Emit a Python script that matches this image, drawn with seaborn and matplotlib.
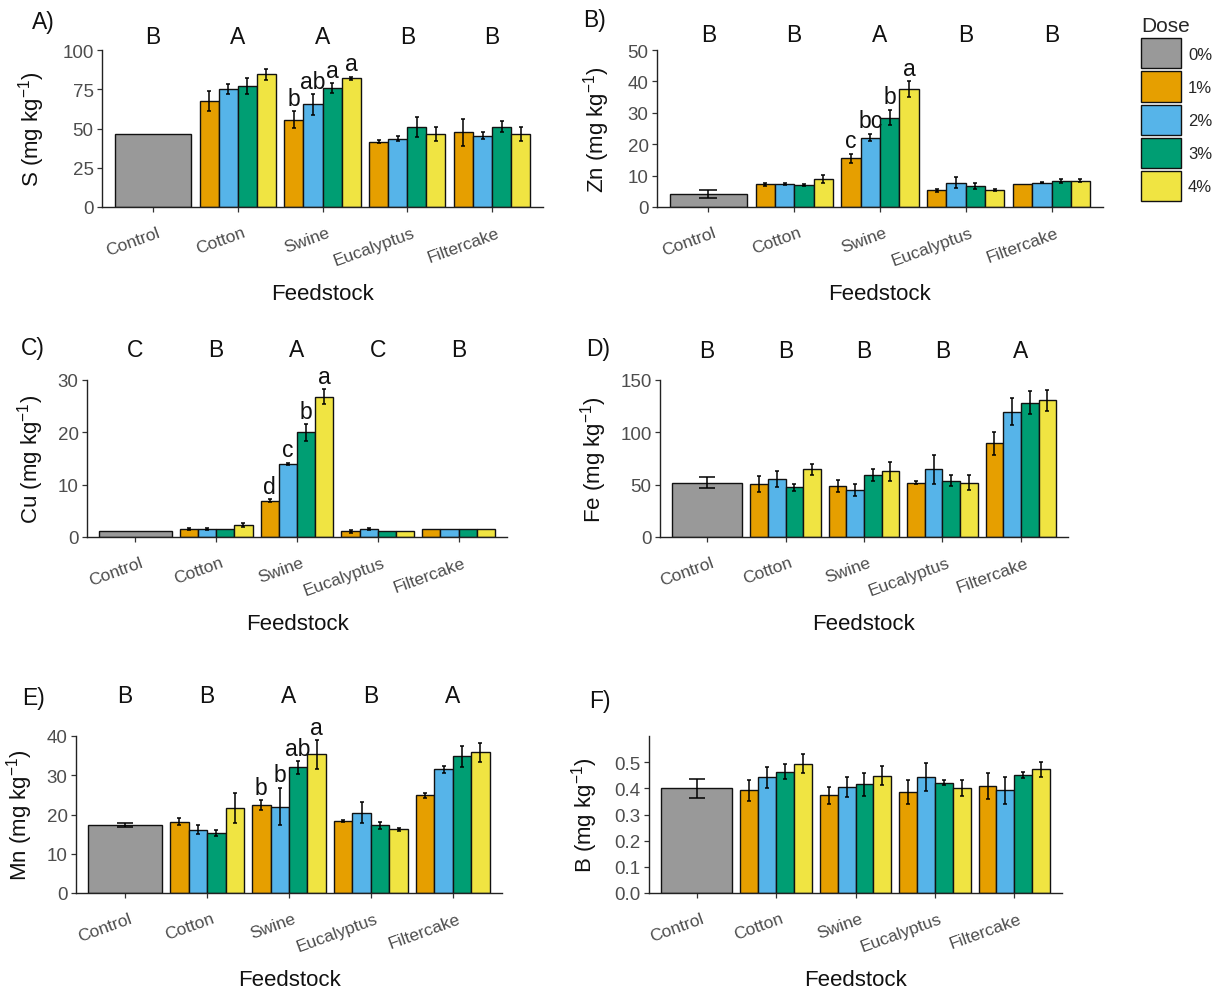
import numpy as np
import pandas as pd
import matplotlib
matplotlib.use("Agg")
import matplotlib.pyplot as plt
from matplotlib.patches import Patch
from matplotlib.container import BarContainer
from matplotlib.transforms import ScaledTranslation, blended_transform_factory
import seaborn as sns

sns.set_theme(style="ticks")
plt.rcParams["font.family"] = ["Liberation Sans", "DejaVu Sans"]
plt.rcParams["mathtext.fontset"] = "custom"
plt.rcParams["mathtext.rm"] = "Liberation Sans"
plt.rcParams["mathtext.default"] = "regular"

# ---- data -------------------------------------------------------------
feedstocks = ["Control", "Cotton", "Swine", "Eucalyptus", "Filtercake"]
amended = ["Cotton", "Swine", "Eucalyptus", "Filtercake"]
doses = ["1%", "2%", "3%", "4%"]
dose_levels = ["0%", "1%", "2%", "3%", "4%"]
dose_colors = ["#999999", "#E69F00", "#56B4E9", "#009E73", "#F0E442"]

elements = ["S", "Zn", "Cu", "Fe", "Mn", "B"]

# control soil (0 % dose): mean and standard error
control_mean = [46.5, 4.2, 1.2, 52.0, 17.3, 0.400]
control_se = [0.0, 1.3, 0.0, 5.3, 0.5, 0.037]

# amended soils: rows Cotton, Swine, Eucalyptus, Filtercake; columns 1-4 %
s_mean = [[67.7, 75.0, 77.2, 84.4], [55.6, 65.3, 75.9, 82.0],
          [41.6, 43.5, 51.2, 46.5], [47.6, 45.5, 51.2, 46.5]]
s_se = [[6.5, 3.2, 5.0, 3.7], [5.3, 6.7, 3.0, 1.0],
        [1.0, 1.5, 6.3, 4.3], [8.7, 2.5, 3.5, 4.3]]

zn_mean = [[7.2, 7.3, 7.1, 9.0], [15.5, 22.1, 28.5, 37.5],
           [5.3, 7.8, 6.6, 5.4], [7.2, 7.8, 8.4, 8.4]]
zn_se = [[0.4, 0.2, 0.3, 1.3], [1.5, 1.2, 2.5, 2.5],
         [0.5, 1.8, 1.0, 0.3], [0.0, 0.3, 0.6, 0.5]]

cu_mean = [[1.6, 1.5, 1.5, 2.3], [6.9, 14.0, 20.0, 26.8],
           [1.1, 1.5, 1.1, 1.1], [1.5, 1.5, 1.5, 1.5]]
cu_se = [[0.2, 0.2, 0.0, 0.4], [0.3, 0.2, 1.6, 1.4],
         [0.3, 0.2, 0.0, 0.0], [0.0, 0.0, 0.0, 0.0]]

fe_mean = [[50.4, 55.5, 47.6, 64.7], [48.5, 44.7, 59.3, 62.8],
           [52.0, 64.7, 53.9, 52.0], [89.4, 119.9, 128.4, 130.7]]
fe_se = [[7.5, 8.0, 3.5, 5.3], [5.5, 6.0, 6.0, 9.0],
         [1.5, 14.0, 5.4, 7.5], [11.0, 12.7, 11.0, 10.0]]

mn_mean = [[18.2, 16.1, 15.3, 21.6], [22.4, 22.0, 32.0, 35.3],
           [18.3, 20.5, 17.2, 16.2], [24.9, 31.5, 34.8, 35.8]]
mn_se = [[0.9, 1.1, 0.8, 3.8], [1.2, 4.8, 1.6, 3.7],
         [0.3, 2.7, 0.8, 0.4], [0.6, 0.8, 2.6, 2.5]]

b_mean = [[0.392, 0.443, 0.463, 0.494], [0.373, 0.406, 0.415, 0.449],
          [0.386, 0.443, 0.422, 0.400], [0.408, 0.392, 0.451, 0.472]]
b_se = [[0.040, 0.040, 0.029, 0.037], [0.033, 0.038, 0.045, 0.037],
        [0.045, 0.054, 0.011, 0.030], [0.049, 0.050, 0.013, 0.030]]

# Tukey groups between feedstocks (upper case) and among swine doses (lower case)
feedstock_groups = {
    "S": ["B", "A", "A", "B", "B"],
    "Zn": ["B", "B", "A", "B", "B"],
    "Cu": ["C", "B", "A", "C", "B"],
    "Fe": ["B", "B", "B", "B", "A"],
    "Mn": ["B", "B", "A", "B", "A"],
    "B": None,
}
swine_groups = {
    "S": ["b", "ab", "a", "a"],
    "Zn": ["c", "bc", "b", "a"],
    "Cu": ["d", "c", "b", "a"],
    "Fe": None,
    "Mn": ["b", "b", "ab", "a"],
    "B": None,
}

means = {"S": s_mean, "Zn": zn_mean, "Cu": cu_mean, "Fe": fe_mean, "Mn": mn_mean, "B": b_mean}
ses = {"S": s_se, "Zn": zn_se, "Cu": cu_se, "Fe": fe_se, "Mn": mn_se, "B": b_se}

rows = []
for k, el in enumerate(elements):
    rows.append((el, "Control", "0%", control_mean[k], control_se[k]))
    for i, fs in enumerate(amended):
        for j, d in enumerate(doses):
            rows.append((el, fs, d, means[el][i][j], ses[el][i][j]))
data = pd.DataFrame(rows, columns=["Element", "Feedstock", "Dose", "Mean", "SE"])

# ---- layout -----------------------------------------------------------
W, H = 1225, 995
fig = plt.figure(figsize=(W / 100, H / 100), dpi=100)

def frac(x, y):
    return x / W, 1 - y / H

panels = {
    # element: axes box in pixels (x0, y0, x1, y1), y range, ticks, tag,
    #          tag position (px), upper-case letter height (axes fraction), ylabel x (px)
    "S": dict(box=(102, 51, 543, 208), ymax=100, ticks=[0, 25, 50, 75, 100],
              fmt="{:.0f}", tag="A)", tagpos=(32, 22), grp_y=1.083, ylab_x=32),
    "Zn": dict(box=(657, 51, 1103, 208), ymax=50, ticks=[0, 10, 20, 30, 40, 50],
               fmt="{:.0f}", tag="B)", tagpos=(583, 21), grp_y=1.096, ylab_x=597),
    "Cu": dict(box=(87, 381, 507, 538), ymax=30, ticks=[0, 10, 20, 30],
               fmt="{:.0f}", tag="C)", tagpos=(21, 349), grp_y=1.197, ylab_x=31),
    "Fe": dict(box=(660, 381, 1068, 538), ymax=150, ticks=[0, 50, 100, 150],
               fmt="{:.0f}", tag="D)", tagpos=(586, 350), grp_y=1.185, ylab_x=594),
    "Mn": dict(box=(76, 737, 502, 894), ymax=40, ticks=[0, 10, 20, 30, 40],
               fmt="{:.0f}", tag="E)", tagpos=(22, 699), grp_y=1.26, ylab_x=20),
    "B": dict(box=(649, 737, 1062, 894), ymax=0.6, ticks=[0.0, 0.1, 0.2, 0.3, 0.4, 0.5],
              fmt="{:.1f}", tag="F)", tagpos=(589, 702), grp_y=None, ylab_x=585),
}

TICK_GREY = "#4d4d4d"
EDGE = "#111111"
x_span = 5.2  # categorical axis from -0.6 to 4.6

for el in elements:
    p = panels[el]
    x0, y0, x1, y1 = p["box"]
    ax = fig.add_axes([x0 / W, 1 - y1 / H, (x1 - x0) / W, (y1 - y0) / H])
    sub = data[data["Element"] == el]
    treated = sub[sub["Dose"] != "0%"]
    control = sub[sub["Dose"] == "0%"]

    sns.barplot(data=treated, x="Feedstock", y="Mean", hue="Dose",
                order=feedstocks, hue_order=doses, palette=dose_colors[1:],
                saturation=1, width=0.9, dodge=True, errorbar=None,
                edgecolor=EDGE, linewidth=1.0, legend=False, ax=ax)
    sns.barplot(data=control, x="Feedstock", y="Mean", order=feedstocks,
                color=dose_colors[0], saturation=1, width=0.9, errorbar=None,
                edgecolor=EDGE, linewidth=1.0, ax=ax)

    px_per_unit = (x1 - x0) / x_span
    lookup = sub.set_index(["Feedstock", "Dose"])
    bar_tops = {}
    bar_sets = [c for c in list(ax.containers) if isinstance(c, BarContainer)]
    for k, cont in enumerate(bar_sets):
        dose = doses[k] if k < len(doses) else "0%"
        half = 0.1 if dose == "0%" else 0.025
        cap_pt = half * px_per_unit * 72 / 100
        for bar in cont.patches:
            if bar is None:
                continue
            xc = bar.get_x() + bar.get_width() / 2
            h = bar.get_height()
            if not np.isfinite(h):
                continue
            fs = feedstocks[int(round(xc))]
            se = lookup.loc[(fs, dose), "SE"]
            if se > 0:
                ax.errorbar(xc, h, yerr=se, fmt="none", ecolor="black",
                            elinewidth=1.1, capsize=cap_pt, capthick=1.1, zorder=5)
            bar_tops[(fs, dose)] = (xc, h + se)

    ax.set_xlim(-0.6, 4.6)
    ax.set_ylim(0, p["ymax"])
    ax.set_yticks(p["ticks"])
    ax.set_yticklabels([p["fmt"].format(t) for t in p["ticks"]])
    ax.set_xticks(range(len(feedstocks)))
    ax.set_xticklabels(feedstocks)

    for side in ["top", "right"]:
        ax.spines[side].set_visible(False)
    for side in ["left", "bottom"]:
        ax.spines[side].set_color("#222222")
        ax.spines[side].set_linewidth(1.0)
    ax.tick_params(axis="both", length=3.6, width=0.9, color="#333333",
                   labelcolor=TICK_GREY, labelsize=13.5)
    ax.tick_params(axis="y", pad=2.5)
    ax.tick_params(axis="x", pad=9)
    shift = ScaledTranslation(4 / 100, 0, fig.dpi_scale_trans)
    for lab in ax.get_xticklabels():
        lab.set_rotation(20)
        lab.set_ha("right")
        lab.set_va("top")
        lab.set_rotation_mode("anchor")
        lab.set_fontsize(12.5)
        lab.set_transform(lab.get_transform() + shift)

    ax.set_xlabel("Feedstock", fontsize=16, color="#111111")
    ax.xaxis.set_label_coords(0.5, -87 / (y1 - y0))
    ax.xaxis.label.set_va("center")
    ax.set_ylabel(el + r" (mg kg$^{-1}$)", fontsize=16, color="#111111")
    ax.yaxis.set_label_coords(-(x0 - p["ylab_x"]) / (x1 - x0), 0.5)
    ax.yaxis.label.set_va("center")

    # panel tag
    tx, ty = frac(*p["tagpos"])
    fig.text(tx, ty, p["tag"], fontsize=16.5, ha="left", va="center", color="#111111")

    # feedstock groups above the panel
    if feedstock_groups[el]:
        trans = blended_transform_factory(ax.transData, ax.transAxes)
        for i, g in enumerate(feedstock_groups[el]):
            ax.text(i, p["grp_y"], g, transform=trans, ha="center", va="center",
                    fontsize=16.5, color="#111111", clip_on=False)

    # dose groups within swine
    if swine_groups[el]:
        for j, g in enumerate(swine_groups[el]):
            xc, top = bar_tops[("Swine", doses[j])]
            ax.annotate(g, (xc, top), xytext=(0, 1), textcoords="offset points",
                        ha="center", va="bottom", fontsize=16.5, color="#111111",
                        annotation_clip=False)

# legend
handles = [Patch(facecolor=c, edgecolor=EDGE, linewidth=1.0) for c in dose_colors]
leg = fig.legend(handles, dose_levels, title="Dose", loc="upper left",
                 bbox_to_anchor=frac(1128, 4), frameon=False, fontsize=12,
                 title_fontsize=15, handlelength=2.4, handleheight=2.4,
                 labelspacing=0.18, handletextpad=0.4, borderpad=0.3)
leg._legend_box.align = "left"

fig.savefig("out.png", dpi=100)
